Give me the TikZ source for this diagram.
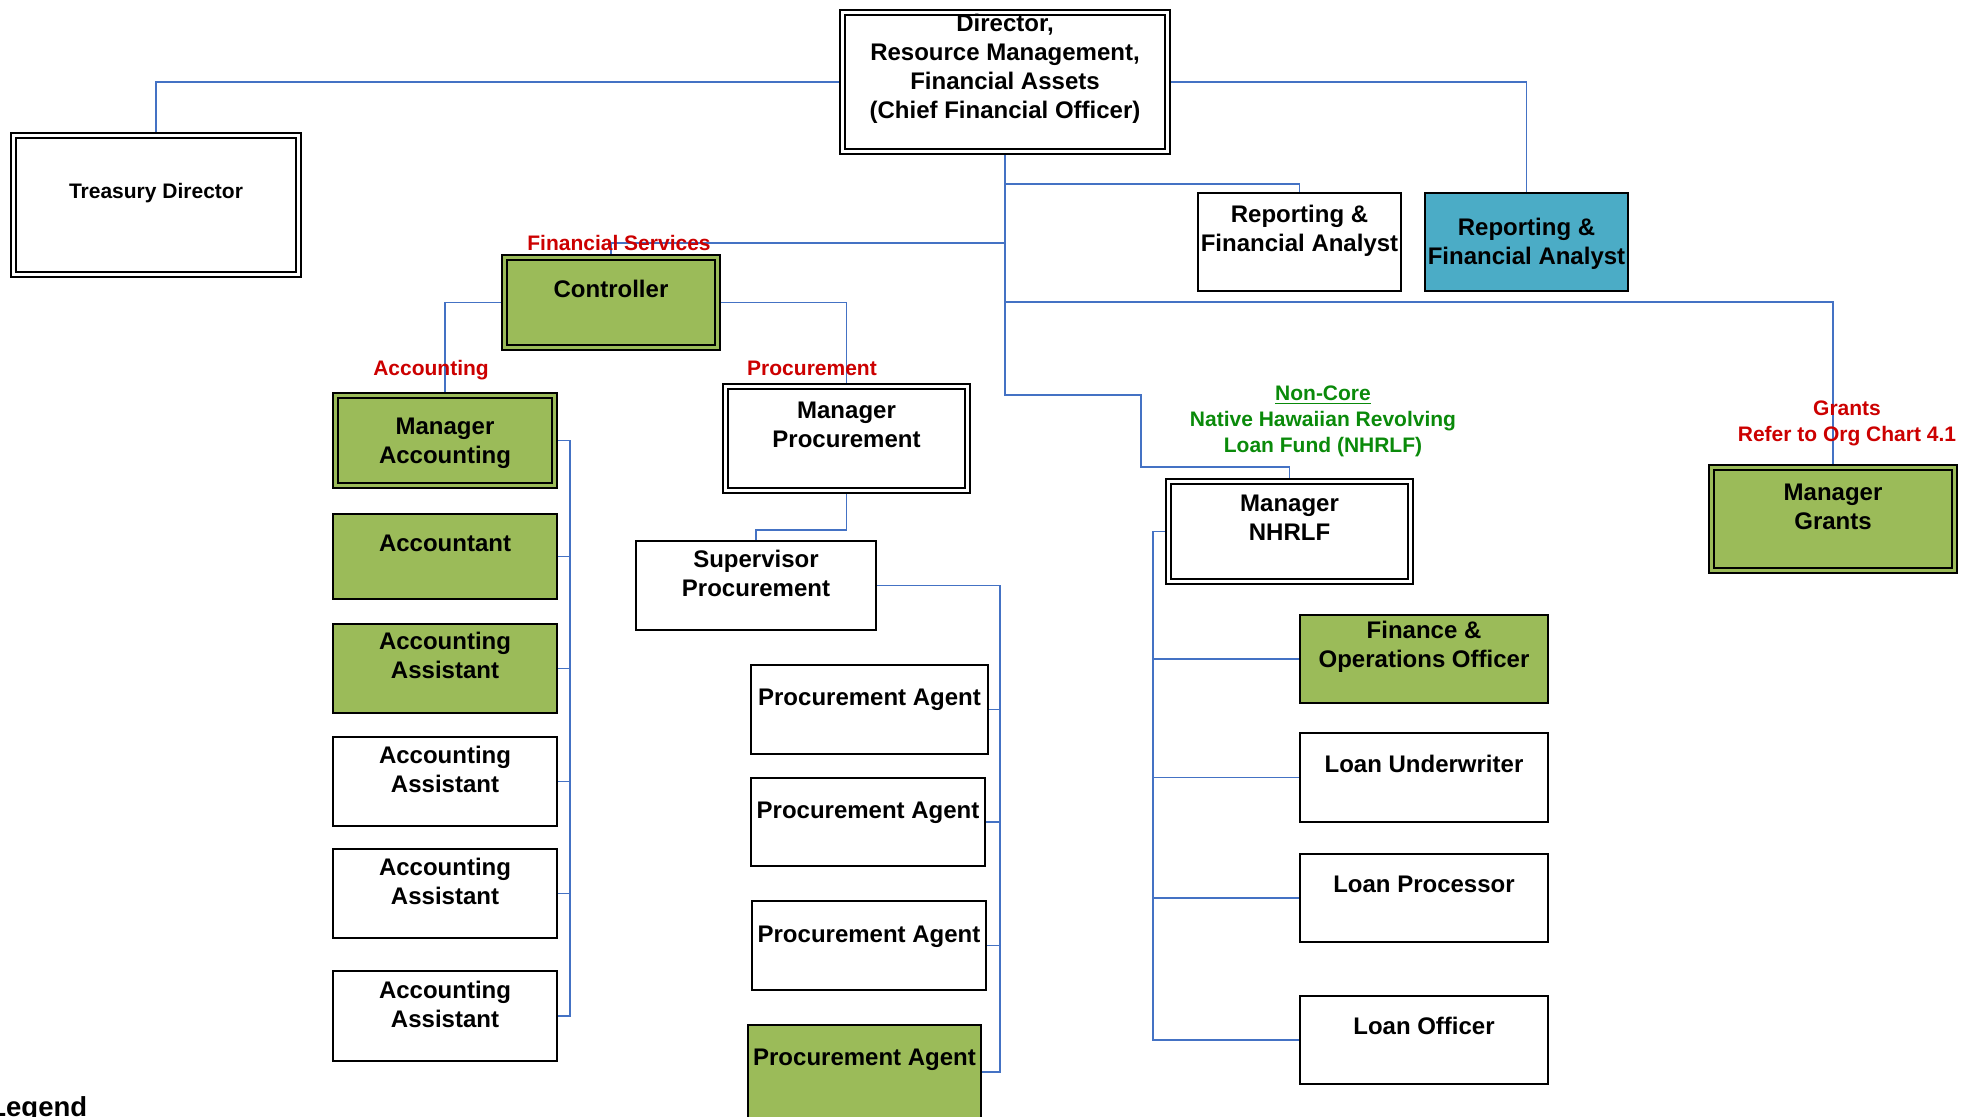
\documentclass[tikz,border=0pt]{standalone}
\usepackage{fontspec}
\setmainfont{Liberation Sans}
\usetikzlibrary{fit,backgrounds}
\definecolor{unitgreenfill}{HTML}{9BBB59}
\definecolor{unittealfill}{HTML}{4BACC6}
\definecolor{linkblue}{HTML}{4472C4}
\definecolor{unitred}{HTML}{CC0000}
\definecolor{unitgreen}{HTML}{0A8A0A}

% one position box: style, name, NW corner, SE corner, text lift, text
\newcommand\orgunit[6]{%
  \node[#1, fit={#3 #4}] (#2) {};
  \node[btxt] (#2-txt) at ([yshift=#5]#2.center) {#6};
}

\begin{document}
\begin{tikzpicture}[x=0.5pt,y=-0.5pt,
  box/.style={draw=black, line width=1pt, fill=white, inner sep=-0.5pt},
  gbox/.style={box, fill=unitgreenfill},
  tbox/.style={box, fill=unittealfill},
  dbox/.style={draw=black, line width=0.9pt, double=white, double distance=1.5pt,
               fill=white, inner sep=-1.65pt},
  dgbox/.style={dbox, double=unitgreenfill, fill=unitgreenfill},
  btxt/.style={font=\bfseries\fontsize{12pt}{14.5pt}\selectfont, align=center, inner sep=0pt},
  unitlbl/.style={font=\bfseries\fontsize{10.5pt}{12.9pt}\selectfont, align=center, inner sep=0pt},
  link/.style={draw=linkblue, line width=0.85pt}]
\clip (0,0) rectangle (1972,1117);

% ---- top level ----
\orgunit{dbox}{dir}{(839,9)}{(1171,155)}{6.5pt}{Director,\\Resource Management,\\Financial Assets\\(Chief Financial Officer)}
\orgunit{dbox}{treas}{(10,132)}{(302,278)}{6pt}{\fontsize{10.5pt}{13pt}\selectfont Treasury Director}
\orgunit{box}{rep1}{(1197,192)}{(1402,292)}{5.5pt}{Reporting \&\\Financial Analyst}
\orgunit{tbox}{rep2}{(1424,192)}{(1629,292)}{-0.8pt}{Reporting \&\\Financial Analyst}

% ---- financial services ----
\orgunit{dgbox}{ctrl}{(501,254)}{(721,351)}{7pt}{Controller}

% accounting
\orgunit{dgbox}{macc}{(332,392)}{(558,489)}{-1.5pt}{Manager\\Accounting}
\orgunit{gbox}{acc}{(332,513)}{(558,600)}{6.8pt}{Accountant}
\orgunit{gbox}{aa1}{(332,623)}{(558,714)}{6.5pt}{Accounting\\Assistant}
\orgunit{box}{aa2}{(332,736)}{(558,827)}{6pt}{Accounting\\Assistant}
\orgunit{box}{aa3}{(332,848)}{(558,939)}{6pt}{Accounting\\Assistant}
\orgunit{box}{aa4}{(332,970)}{(558,1062)}{6pt}{Accounting\\Assistant}

% procurement
\orgunit{dbox}{mproc}{(722,383)}{(971,494)}{6.8pt}{Manager\\Procurement}
\orgunit{box}{sup}{(635,540)}{(877,631)}{6pt}{Supervisor\\Procurement}
\orgunit{box}{pa1}{(750,664)}{(989,755)}{5pt}{Procurement Agent}
\orgunit{box}{pa2}{(750,777)}{(986,867)}{4.5pt}{Procurement Agent}
\orgunit{box}{pa3}{(751,900)}{(987,991)}{4.5pt}{Procurement Agent}
\orgunit{gbox}{pa4}{(747,1024)}{(982,1120)}{6pt}{Procurement Agent}

% ---- NHRLF ----
\orgunit{dbox}{nhrlf}{(1165,478)}{(1414,585)}{6.8pt}{Manager\\NHRLF}
\orgunit{gbox}{fo}{(1299,614)}{(1549,704)}{6.2pt}{Finance \&\\Operations Officer}
\orgunit{box}{lu}{(1299,732)}{(1549,823)}{7pt}{Loan Underwriter}
\orgunit{box}{lp}{(1299,853)}{(1549,943)}{6.8pt}{Loan Processor}
\orgunit{box}{lo}{(1299,995)}{(1549,1085)}{6.8pt}{Loan Officer}

% ---- grants ----
\orgunit{dgbox}{grants}{(1708,464)}{(1958,574)}{6.3pt}{Manager\\Grants}

% ---- reporting lines ----
\coordinate (trunkA) at (1005,184);
\coordinate (trunkB) at (1005,243);
\coordinate (trunkC) at (1005,302);
\coordinate (trunkD) at (1005,395);
\coordinate (jogA) at (1141,395);
\coordinate (jogB) at (1141,467);
\coordinate (procjog) at (756,530);
\coordinate (abus) at (570,1016);
\coordinate (pbus) at (1000,1072);
\coordinate (nbus) at (1153,1040);

\begin{scope}[on background layer]
  \draw[link] (dir.west) -| (treas.north);
  \draw[link] (dir.east) -| (rep2.north);
  \draw[link] (dir.south) -- (trunkD) -- (jogA) -- (jogB) -| (nhrlf.north);
  \draw[link] (trunkA) -| (rep1.north);
  \draw[link] (trunkB) -| (ctrl.north);
  \draw[link] (trunkC) -| (grants.north);
  \draw[link] (ctrl.west) -| (macc.north);
  \draw[link] (ctrl.east) -| (mproc.north);
  \draw[link] (mproc.south) |- (procjog) -- (sup.north);
  % accounting staff
  \draw[link] (macc.east) -| (abus) -- (aa4.east);
  \foreach \n in {acc,aa1,aa2,aa3} \draw[link] (\n.east) -- (\n.east -| abus);
  % procurement staff
  \draw[link] (sup.east) -| (pbus) -- (pa4.east);
  \foreach \n in {pa1,pa2,pa3} \draw[link] (\n.east) -- (\n.east -| pbus);
  % NHRLF staff
  \draw[link] (nhrlf.west) -| (nbus) -- (lo.west);
  \foreach \n in {fo,lu,lp} \draw[link] (\n.west) -- (\n.west -| nbus);
\end{scope}

% ---- section labels ----
\node[unitlbl, text=unitred, anchor=base] (lblfs) at (619,251) {Financial Services};
\node[unitlbl, text=unitred, anchor=base] (lblacc) at (431,376) {Accounting};
\node[unitlbl, text=unitred, anchor=base] (lblproc) at (812,376) {Procurement};
\node[unitlbl, text=unitgreen, anchor=north, font=\bfseries\fontsize{10.5pt}{13pt}\selectfont]
  (lblnhrlf) at (1323,385) {\underline{Non-Core}\\Native Hawaiian Revolving\\Loan Fund (NHRLF)};
\node[unitlbl, text=unitred, anchor=north, font=\bfseries\fontsize{10.5pt}{12.75pt}\selectfont]
  (lblgrants) at (1847,400.5) {Grants\\Refer to Org Chart 4.1};

\node[font=\bfseries\fontsize{13.75pt}{16pt}\selectfont, anchor=base west, inner sep=0pt]
  (legend) at (-11,1116) {Legend};
\end{tikzpicture}
\end{document}
